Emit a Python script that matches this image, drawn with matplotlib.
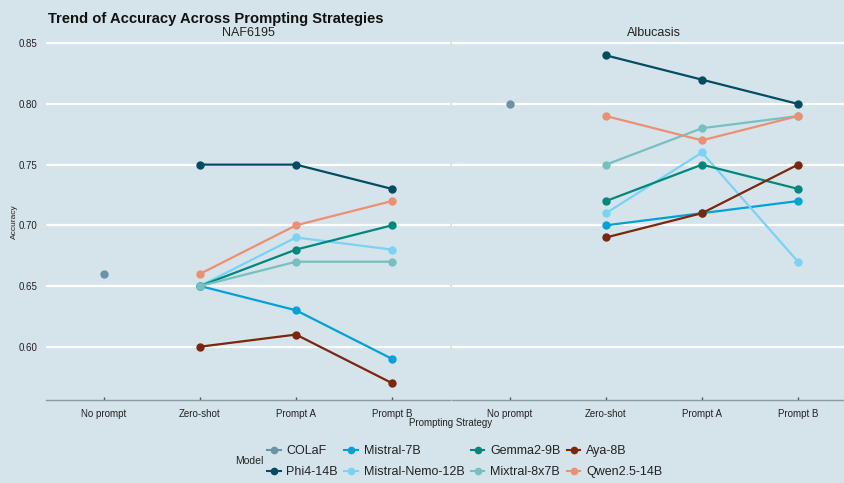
import matplotlib
matplotlib.use("Agg")
import matplotlib.pyplot as plt
from matplotlib.lines import Line2D

plt.rcParams['font.family'] = ['Liberation Sans', 'DejaVu Sans']

# ---- data ----
strategies = ["Zero-shot", "Prompt A", "Prompt B"]
all_cats = ["No prompt", "Zero-shot", "Prompt A", "Prompt B"]
datasets = ["NAF6195", "Albucasis"]
models = ["COLaF", "Phi4-14B", "Mistral-7B", "Mistral-Nemo-12B",
          "Gemma2-9B", "Mixtral-8x7B", "Aya-8B", "Qwen2.5-14B"]
colors = ["#6794a7", "#014d64", "#01a2d9", "#7ad2f6",
          "#00887d", "#76c0c1", "#7c260b", "#ee8f71"]

colaf_naf = 0.66
colaf_alb = 0.80

naf_phi4 = [0.75, 0.75, 0.73]
naf_mistral7b = [0.65, 0.63, 0.59]
naf_nemo = [0.65, 0.69, 0.68]
naf_gemma = [0.65, 0.68, 0.70]
naf_mixtral = [0.65, 0.67, 0.67]
naf_aya = [0.60, 0.61, 0.57]
naf_qwen = [0.66, 0.70, 0.72]

alb_phi4 = [0.84, 0.82, 0.80]
alb_mistral7b = [0.70, 0.71, 0.72]
alb_nemo = [0.71, 0.76, 0.67]
alb_gemma = [0.72, 0.75, 0.73]
alb_mixtral = [0.75, 0.78, 0.79]
alb_aya = [0.69, 0.71, 0.75]
alb_qwen = [0.79, 0.77, 0.79]

yticks = [0.60, 0.65, 0.70, 0.75, 0.80, 0.85]

panels = {
    "NAF6195": (colaf_naf, [naf_phi4, naf_mistral7b, naf_nemo, naf_gemma,
                            naf_mixtral, naf_aya, naf_qwen]),
    "Albucasis": (colaf_alb, [alb_phi4, alb_mistral7b, alb_nemo, alb_gemma,
                              alb_mixtral, alb_aya, alb_qwen]),
}

BG = "#d5e4eb"
W, H = 845, 483
fig = plt.figure(figsize=(W / 100, H / 100), dpi=100, facecolor=BG)

def fx(px):
    return px / W

def fy(py):
    return 1 - py / H

pan_w = 403.2
bottom_px, top_px = 399.5, 39.0
lefts = [46.4, 452.4]
axes = []
for i, ds in enumerate(datasets):
    ax = fig.add_axes([fx(lefts[i]), fy(bottom_px), pan_w / W, (bottom_px - top_px) / H])
    ax.set_facecolor(BG)
    ax.set_ylim(0.5565, 0.8535)
    ax.set_yticks(yticks)
    ax.yaxis.grid(True, color="white", lw=1.6)
    ax.set_axisbelow(True)
    for s in ["left", "right", "top"]:
        ax.spines[s].set_visible(False)
    ax.spines["bottom"].set_color("#8c9aa3")
    ax.spines["bottom"].set_linewidth(1.0)
    ax.tick_params(axis="y", length=0, pad=6.5, labelsize=7, labelcolor="#222222")
    ax.tick_params(axis="x", direction="in", length=2.5, width=1, color="#555555",
                   pad=7, labelsize=7, labelcolor="#222222")
    colaf, series = panels[ds]
    xpos = {c: j for j, c in enumerate(all_cats)}
    ax.plot([xpos["No prompt"]], [colaf], "o", color=colors[0], ms=5, zorder=3)
    for k, vals in enumerate(series):
        xs = [xpos[s] for s in strategies]
        ax.plot(xs, vals, "-o", color=colors[k + 1], lw=1.6, ms=5, zorder=3)
    ax.set_xticks(range(len(all_cats)))
    ax.set_xticklabels(all_cats)
    ax.set_xlim(-0.6, 3.6)
    if i == 0:
        ax.set_yticklabels([f"{v:.2f}" for v in yticks])
    else:
        ax.set_yticklabels([])
    ax.set_title(ds, fontsize=9, pad=1.5, color="#222222")
    axes.append(ax)

fig.text(fx(48), fy(19), "Trend of Accuracy Across Prompting Strategies",
         fontsize=10.6, fontweight="bold", ha="left", va="center", color="#111111")
fig.text(fx(14), fy(222), "Accuracy", rotation=90, fontsize=6, ha="center", va="center",
         color="#222222")
fig.text(fx(451), fy(423), "Prompting Strategy", fontsize=7, ha="center", va="center",
         color="#222222")

handles = [Line2D([0], [0], color=c, lw=1.5, marker="o", ms=4.5) for c in colors]
leg = fig.legend(handles, models, ncol=4, loc="center left",
                 bbox_to_anchor=(fx(267), fy(461.5)), frameon=False, fontsize=9,
                 handlelength=1.1, handletextpad=0.45, columnspacing=0.5,
                 labelspacing=0.72, borderpad=0, borderaxespad=0)
for t in leg.get_texts():
    t.set_color("#222222")
fig.text(fx(235), fy(461.5), "Model", fontsize=7.5, ha="left", va="center", color="#222222")

fig.savefig("out.png", dpi=100, facecolor=BG)
